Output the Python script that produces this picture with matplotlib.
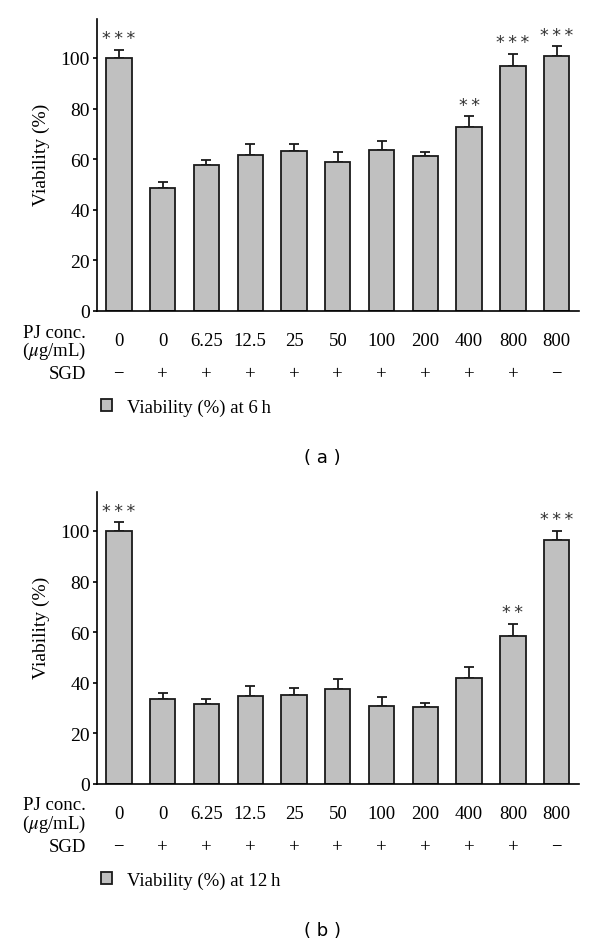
import numpy as np
from matplotlib import pyplot as plt
from matplotlib import transforms

# categories shared by both panels
pj_conc = ['0', '0', '6.25', '12.5', '25', '50', '100', '200', '400', '800', '800']
sgd = ['\u2212', '+', '+', '+', '+', '+', '+', '+', '+', '+', '\u2212']

# viability at 6 h
via_6h = [100.0, 48.7, 57.6, 61.8, 63.3, 58.9, 63.5, 61.4, 72.7, 96.7, 100.9]
err_6h = [3.3, 2.3, 2.1, 4.2, 2.7, 3.8, 3.7, 1.5, 4.3, 4.9, 3.7]
stars_6h = ['***', '', '', '', '', '', '', '', '**', '***', '***']

# viability at 12 h
via_12h = [100.0, 33.6, 31.5, 34.7, 35.1, 37.7, 30.8, 30.4, 41.7, 58.6, 96.6]
err_12h = [3.4, 2.3, 2.2, 4.2, 2.8, 3.7, 3.7, 1.6, 4.4, 4.8, 3.4]
stars_12h = ['***', '', '', '', '', '', '', '', '', '**', '***']

plt.rcParams['font.family'] = ['Liberation Serif', 'DejaVu Serif']
plt.rcParams['mathtext.fontset'] = 'stix'

W, H = 600, 945
fig = plt.figure(figsize=(W / 100, H / 100), dpi=100)


def fy(py):
    # pixel row -> figure fraction
    return 1 - py / H


def panel(top_px, zero_px, vals, errs, stars, legend_text, tag):
    ax = fig.add_axes([97 / W, fy(zero_px), (579 - 97) / W, (zero_px - top_px) / H])
    x = np.arange(len(vals))
    bars = ax.bar(x, vals, width=0.58, color='#c0c0c0', edgecolor='#1a1a1a',
                  linewidth=1.3, zorder=2)
    ax.errorbar(x, vals, yerr=[np.zeros(len(errs)), errs], fmt='none',
                ecolor='#1a1a1a', elinewidth=1.3, capsize=3.5, capthick=1.3, zorder=1)

    # significance stars
    for xi, v, e, s in zip(x, vals, errs, stars):
        if s:
            ax.text(xi, v + e + 1.0, '\u2009'.join(s), ha='center', va='bottom',
                    fontsize=12.5, family='DejaVu Sans', color='#333333')

    ax.set_xlim(-0.5, 10.51)
    ax.set_ylim(0, 115.4)
    ax.set_yticks(range(0, 101, 20))
    ax.set_xticks([])
    ax.spines['top'].set_visible(False)
    ax.spines['right'].set_visible(False)
    ax.spines['left'].set_linewidth(1.2)
    ax.spines['bottom'].set_linewidth(1.2)
    ax.tick_params(axis='y', direction='out', length=3, width=1.2, labelsize=14, pad=2)
    ax.set_ylabel('Viability (%)', fontsize=14)
    ax.yaxis.set_label_coords(-0.098, 157 / (zero_px - top_px))

    # rows of labels under the axis
    trans = transforms.blended_transform_factory(ax.transData, fig.transFigure)
    for xi, c, s in zip(x, pj_conc, sgd):
        ax.text(xi, fy(zero_px + 30), c, transform=trans, ha='center', va='center',
                fontsize=13.5)
        ax.text(xi, fy(zero_px + 63), s, transform=trans, ha='center', va='center',
                fontsize=13.5)
    fig.text(86 / W, fy(zero_px + 21), 'PJ conc.', ha='right', va='center', fontsize=13.5)
    fig.text(86 / W, fy(zero_px + 39), '($\\mu$g/mL)', ha='right', va='center', fontsize=13.5)
    fig.text(86 / W, fy(zero_px + 63), 'SGD', ha='right', va='center', fontsize=13.5)

    fig.legend([bars], [legend_text], loc='center left',
               bbox_to_anchor=(101 / W, fy(zero_px + 96)), frameon=False,
               fontsize=13.5, handlelength=0.6, handleheight=0.6,
               handletextpad=0.8, borderaxespad=0, borderpad=0)

    fig.text(322 / W, fy(zero_px + 146), '( ' + tag + ' )', ha='center', va='center',
             fontsize=13, family='DejaVu Sans')
    return ax


panel(20, 312, via_6h, err_6h, stars_6h, 'Viability (%) at 6\u2009h', 'a')
panel(493, 785, via_12h, err_12h, stars_12h, 'Viability (%) at 12\u2009h', 'b')

plt.savefig('out.png', dpi=100)
